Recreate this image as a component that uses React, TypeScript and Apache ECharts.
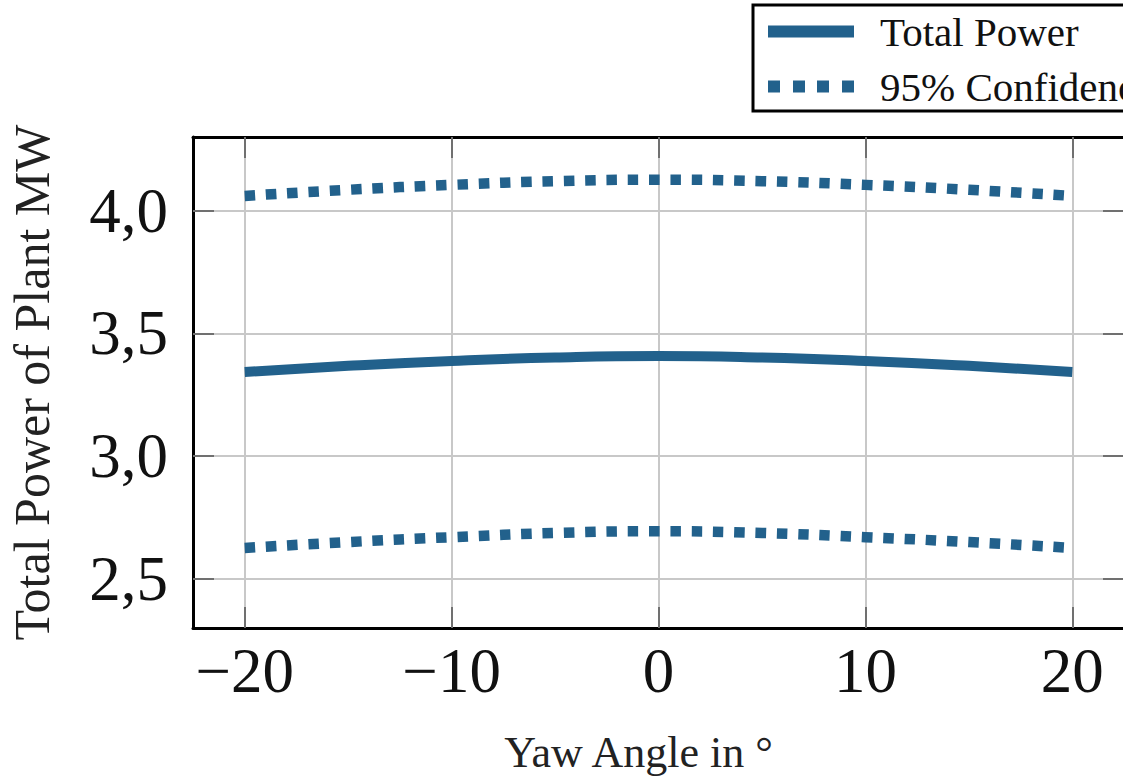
import React, { useEffect, useRef } from "react";
import * as echarts from "echarts";

const yawAngles = [-20, -15, -10, -5, 0, 5, 10, 15, 20];
const totalPower = [3.343, 3.368, 3.388, 3.402, 3.408, 3.402, 3.388, 3.368, 3.343];
const upperConfidence = [4.06, 4.085, 4.105, 4.12, 4.126, 4.12, 4.105, 4.085, 4.06];
const lowerConfidence = [2.626, 2.65, 2.67, 2.687, 2.694, 2.687, 2.67, 2.65, 2.626];
const xTicks = [-20, -10, 0, 10, 20];
const yTicks = [2.5, 3.0, 3.5, 4.0];

const COLOR = "#22618c";
const FONT = "Liberation Serif";

export default function App() {
  const ref = useRef<HTMLDivElement>(null);
  useEffect(() => {
    if (!ref.current) return;
    const chart = echarts.init(ref.current, undefined, { renderer: "svg" });
    const pairs = (ys: number[]) => yawAngles.map((x, i) => [x, ys[i]]);
    const tickStyle = { show: true, inside: true, length: 21, lineStyle: { color: "#707070", width: 2 } };
    const frame = { show: true, onZero: false, lineStyle: { color: "#000", width: 3 } };
    const grid = { show: true, lineStyle: { color: "#c8c8c8", width: 2 } };
    const dotted = { color: COLOR, width: 10.5, type: [10.5, 10.8], cap: "butt" };
    chart.setOption({
      animation: false,
      backgroundColor: "#fff",
      grid: { left: 193, top: 137, right: 6, bottom: 150, containLabel: false, outerBoundsMode: "none" },
      legend: {
        orient: "vertical",
        left: 753,
        top: 5,
        itemWidth: 86,
        itemHeight: 12,
        itemGap: 10,
        padding: [4, 40, 2, 15],
        borderColor: "#000",
        borderWidth: 3,
        backgroundColor: "#fff",
        textStyle: { fontFamily: FONT, fontSize: 41, color: "#111", lineHeight: 45, padding: [0, 0, 0, 21] },
        data: [
          { name: "Total Power", icon: "rect" },
          {
            name: "95% Confidence",
            icon: "path://M0,0h12v12h-12z M25,0h12v12h-12z M49,0h12v12h-12z M74,0h12v12h-12z",
          },
        ],
      },
      xAxis: [
        {
          type: "value",
          min: -22.5,
          max: 22.5,
          position: "bottom",
          name: "Yaw Angle in °",
          nameLocation: "middle",
          nameGap: 102,
          nameTextStyle: { fontFamily: FONT, fontSize: 44, color: "#222", padding: [0, 40, 0, 0] },
          axisLine: frame,
          axisTick: { ...tickStyle, customValues: xTicks },
          splitLine: grid,
          axisLabel: {
            customValues: xTicks,
            fontFamily: FONT,
            fontSize: 63,
            color: "#111",
            margin: 11,
            formatter: (v: number) => String(v).replace("-", "\u2212"),
          },
        },
        {
          type: "value",
          min: -22.5,
          max: 22.5,
          position: "top",
          axisLine: frame,
          axisTick: { ...tickStyle, customValues: xTicks },
          splitLine: { show: false },
          axisLabel: { show: false },
        },
      ],
      yAxis: [
        {
          type: "value",
          min: 2.3,
          max: 4.3,
          position: "left",
          name: "Total Power of Plant MW",
          nameLocation: "middle",
          nameRotate: 90,
          nameGap: 136,
          nameTextStyle: { fontFamily: FONT, fontSize: 50, color: "#222" },
          axisLine: frame,
          axisTick: { ...tickStyle, customValues: yTicks },
          splitLine: grid,
          axisLabel: {
            customValues: yTicks,
            fontFamily: FONT,
            fontSize: 63,
            color: "#111",
            margin: 25,
            formatter: (v: number) => v.toFixed(1).replace(".", ","),
          },
        },
        {
          type: "value",
          min: 2.3,
          max: 4.3,
          position: "right",
          axisLine: frame,
          axisTick: { ...tickStyle, customValues: yTicks },
          splitLine: { show: false },
          axisLabel: { show: false },
        },
      ],
      series: [
        {
          name: "Total Power",
          type: "line",
          data: pairs(totalPower),
          smooth: true,
          symbol: "none",
          lineStyle: { color: COLOR, width: 10, cap: "butt" },
          itemStyle: { color: COLOR },
          z: 3,
        },
        {
          name: "95% Confidence",
          type: "line",
          data: pairs(upperConfidence),
          smooth: true,
          symbol: "none",
          lineStyle: dotted,
          itemStyle: { color: COLOR },
          z: 3,
        },
        {
          name: "95% Confidence",
          type: "line",
          data: pairs(lowerConfidence),
          smooth: true,
          symbol: "none",
          lineStyle: dotted,
          itemStyle: { color: COLOR },
          z: 3,
        },
      ],
    });
    return () => chart.dispose();
  }, []);
  return (
    <div
      ref={ref}
      style={{ position: "fixed", left: 0, top: 0, width: 1130, height: 778, background: "#fff" }}
    />
  );
}
